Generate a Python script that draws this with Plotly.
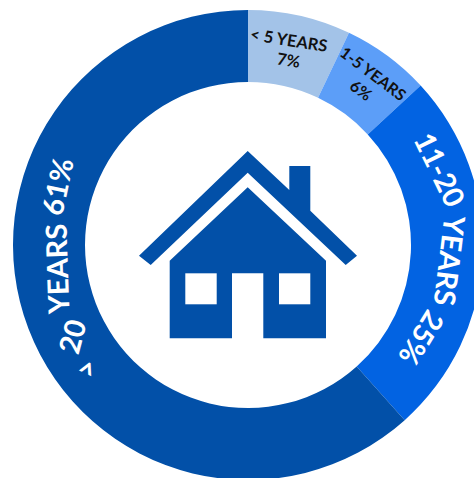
import plotly.graph_objects as go

categories = ["< 5 YEARS", "1-5 YEARS", "11-20 YEARS", "> 20 YEARS"]
shares = [7, 6, 25, 61]
colors = ["#A3C3E8", "#5C9EF8", "#0263E2", "#0250A8"]

W, H = 496, 490
CX, CY, R = 248, 245, 235

fig = go.Figure(go.Pie(
    labels=categories, values=shares, hole=163 / 235, sort=False, direction="clockwise",
    rotation=0, textinfo="none", showlegend=False,
    marker=dict(colors=colors, line=dict(width=0)),
    domain=dict(x=[(CX - R) / W, (CX + R) / W], y=[1 - (CY + R) / H, 1 - (CY - R) / H]),
))

def path(pts):
    return "M" + " L".join(f"{x / W:.5f},{1 - y / H:.5f}" for x, y in pts) + " Z"

house = "#0250A8"
roof = [(139, 255.7), (247.7, 151), (289.3, 190), (289.3, 166), (310.3, 166), (310.3, 210.7),
        (357, 255.7), (345.7, 265), (247.7, 172.7), (150.7, 265)]
body = [(247.7, 187.3), (326, 260.7), (326, 338.3), (263.3, 338.3), (263.3, 273.3), (232, 273.3),
        (232, 338.3), (169.7, 338.3), (169.7, 260.7)]
win1 = [(185.3, 273.3), (216.7, 273.3), (216.7, 304.3), (185.3, 304.3)]
win2 = [(279, 273.3), (310.3, 273.3), (310.3, 304.3), (279, 304.3)]
shapes = [dict(type="path", xref="paper", yref="paper", path=path(p), fillcolor=c, line=dict(width=0))
          for p, c in [(roof, house), (body, house), (win1, "white"), (win2, "white")]]

labels = [
    ("< 5 YEARS", 289, 40, 9, 16.5, "#111"),
    ("7%", 288, 60, 9, 16.5, "#111"),
    ("1-5 YEARS", 374, 73, 37, 16, "#111"),
    ("6%", 361, 90, 37, 16, "#111"),
    ("11-20", 441, 169, 64, 29, "white"),
    ("YEARS", 451, 260, 97, 29, "white"),
    ("25%", 423, 338, 122, 29, "white"),
    (">", 85, 368, -65, 29, "white"),
    ("20", 71, 336, -75, 29, "white"),
    ("YEARS", 56, 270, -92, 29, "white"),
    ("61%", 56, 187, -78, 29, "white"),
]
ann = [dict(text=f"<b>{t}</b>", xref="paper", yref="paper", x=x / W, y=1 - y / H, xanchor="center",
            yanchor="middle", textangle=a, showarrow=False, font=dict(family="Lato", size=s, color=c))
       for t, x, y, a, s, c in labels]

fig.update_layout(width=W, height=H, margin=dict(l=0, r=0, t=0, b=0), autosize=False,
                  paper_bgcolor="white", shapes=shapes, annotations=ann)
fig.write_html("out.html", config=dict(displayModeBar=False),
               post_script="document.documentElement.style.overflow='hidden';document.body.style.overflow='hidden';document.body.style.margin='0';")
